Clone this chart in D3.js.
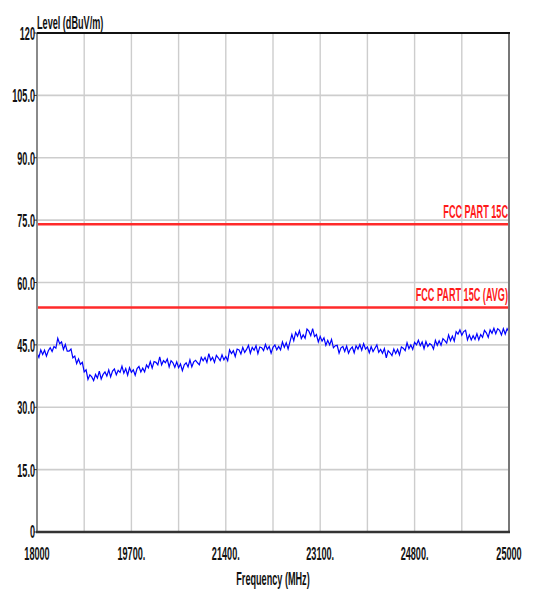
<!DOCTYPE html>
<html><head><meta charset="utf-8">
<script src="https://cdn.jsdelivr.net/npm/d3@7"></script>
<style>html,body{margin:0;padding:0;background:#fff;}</style>
</head><body>
<script>
// ---------- data ----------
const sweepStart = 18000, sweepStep = 28; // MHz, 251 sweep points
const levels = [
43.0,42.0,43.8,42.7,43.7,42.3,43.6,44.3,43.4,44.6,
44.2,46.6,45.3,45.7,43.9,45.1,43.5,43.5,44.0,41.9,
42.3,40.5,41.6,40.3,40.8,38.5,39.0,36.7,37.8,37.3,
36.4,37.9,37.0,38.7,36.8,37.9,38.5,37.5,39.0,37.3,
38.7,39.2,37.8,38.9,38.4,39.9,38.2,39.3,37.7,39.5,
38.4,39.0,37.7,39.3,39.8,38.5,39.4,38.5,40.2,39.5,
41.0,39.4,41.0,40.8,40.2,42.1,40.2,41.2,40.7,41.6,
39.7,41.2,40.7,39.6,40.9,39.5,40.4,38.8,40.2,40.7,
39.7,41.4,39.7,40.9,41.3,40.7,40.2,42.0,41.2,42.0,
40.8,42.9,41.3,42.0,40.8,42.5,41.9,41.2,42.6,41.4,
42.2,41.2,43.8,42.9,43.6,42.2,44.0,43.8,42.8,44.4,
43.2,43.9,44.9,43.0,44.4,43.7,44.8,42.9,44.5,44.3,
43.6,45.1,43.9,44.6,43.0,44.4,45.0,43.8,44.6,43.8,
45.7,44.4,45.5,44.0,45.8,47.5,46.0,48.0,47.1,48.4,
46.5,47.4,46.6,48.8,48.3,47.2,48.9,47.0,47.5,45.7,
47.0,45.9,46.7,44.9,46.1,45.0,46.3,44.3,44.8,44.9,
43.0,44.3,44.6,43.4,44.7,43.0,44.0,44.5,43.1,44.8,
44.0,45.1,43.7,45.3,44.0,44.5,43.1,44.6,43.4,44.2,
45.0,43.2,43.9,43.0,44.1,41.9,43.6,43.1,42.4,44.0,
42.9,43.9,42.6,44.5,44.2,43.6,45.5,44.1,45.0,43.9,
45.6,45.0,46.1,44.8,45.7,44.1,45.8,44.6,45.3,45.0,
44.0,46.1,44.9,46.0,44.9,46.5,46.0,45.4,47.4,46.0,
47.1,45.9,48.2,47.6,48.6,47.3,48.2,48.5,46.2,47.4,
46.2,47.2,46.3,47.7,46.2,47.5,46.8,48.5,47.9,46.8,
48.6,47.8,49.0,47.7,48.9,48.5,47.4,48.9,47.6,48.9,
48.1
];
const freqs = levels.map((_, i) => sweepStart + i * sweepStep);

const yTicks = [0, 15, 30, 45, 60, 75, 90, 105, 120];
const yTickLabels = ["0", "15.0", "30.0", "45.0", "60.0", "75.0", "90.0", "105.0", "120"];
const xGrid = [18700, 19400, 20100, 20800, 21500, 22200, 22900, 23600, 24300];
const xLabelPos = [18000, 19400, 20800, 22200, 23600, 25000];
const xLabelText = ["18000", "19700.", "21400.", "23100.", "24800.", "25000"];
const limitNames = ["FCC PART 15C", "FCC PART 15C (AVG)"];
const limitValues = [74, 54];

// ---------- layout ----------
const W = 533, H = 594;
const L = 37, R = 509, T = 33, B = 532;
const FONT = "'Liberation Sans', Arial, sans-serif";
const SX = 0.48;

const x = d3.scaleLinear().domain([18000, 25000]).range([L, R]);
const y = d3.scaleLinear().domain([0, 120]).range([B, T]);

const svg = d3.select("body").append("svg").attr("width", W).attr("height", H);

function label(g, px, py, txt, anchor, color) {
  return g.append("text")
    .attr("transform", `translate(${px},${py}) scale(${SX},1)`)
    .attr("text-anchor", anchor)
    .attr("font-family", FONT).attr("font-size", 19).attr("font-weight", "bold")
    .attr("fill", color || "#111").text(txt);
}

// grid
svg.append("g").selectAll("line").data(yTicks.filter(d => d > 0 && d < 120)).join("line")
  .attr("x1", L).attr("x2", R).attr("y1", d => y(d)).attr("y2", d => y(d))
  .attr("stroke", "#cdcdcd").attr("stroke-width", 1.6);
svg.append("g").selectAll("line").data(xGrid).join("line")
  .attr("x1", d => x(d)).attr("x2", d => x(d)).attr("y1", T).attr("y2", B)
  .attr("stroke", "#cdcdcd").attr("stroke-width", 1.4);

// limit lines
limitValues.forEach((v, i) => {
  svg.append("line").attr("x1", L).attr("x2", R).attr("y1", y(v)).attr("y2", y(v))
    .attr("stroke", "#ff2a2a").attr("stroke-width", 2.6);
  label(svg, R - 1, y(v) - 6, limitNames[i], "end", "#ff1a1a");
});

// trace
svg.append("path").datum(levels)
  .attr("d", d3.line().x((d, i) => x(freqs[i])).y(d => y(d)))
  .attr("fill", "none").attr("stroke", "#0000ff").attr("stroke-width", 1.2);

// frame
svg.append("line").attr("x1", L).attr("x2", L).attr("y1", T).attr("y2", B).attr("stroke", "#8a8a8a").attr("stroke-width", 2);
svg.append("line").attr("x1", R).attr("x2", R).attr("y1", T).attr("y2", B).attr("stroke", "#777").attr("stroke-width", 2);
svg.append("line").attr("x1", L).attr("x2", R + 1).attr("y1", T).attr("y2", T).attr("stroke", "#111").attr("stroke-width", 2);
svg.append("line").attr("x1", L - 1).attr("x2", R + 1).attr("y1", B).attr("y2", B).attr("stroke", "#333").attr("stroke-width", 2.5);

// y ticks + labels
const yg = svg.append("g");
yTicks.forEach((t, i) => {
  yg.append("line").attr("x1", L - 3).attr("x2", L).attr("y1", y(t)).attr("y2", y(t)).attr("stroke", "#333").attr("stroke-width", 1);
  label(yg, L - 2, y(t) + (t === 0 ? 5.5 : 7), yTickLabels[i], "end");
});

// x labels
xLabelPos.forEach((p, i) => label(svg, x(p), 559.5, xLabelText[i], "middle"));

// titles
label(svg, L, 29, "Level (dBuV/m)", "start");
label(svg, (L + R) / 2, 585, "Frequency (MHz)", "middle");
</script>
</body></html>
